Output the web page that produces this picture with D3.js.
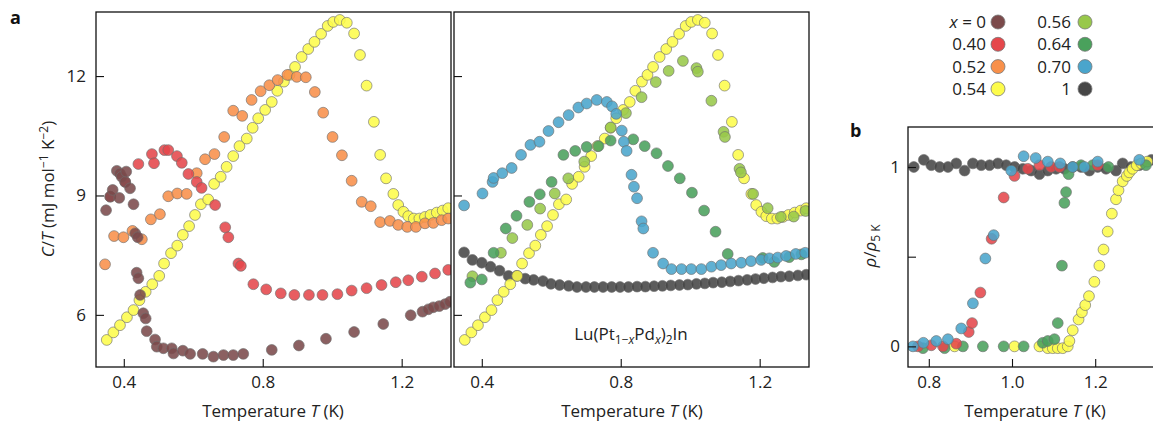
<!DOCTYPE html>
<html><head><meta charset="utf-8">
<script src="https://cdn.jsdelivr.net/npm/d3@7"></script>
<style>
body{margin:0;background:#fff;}
svg{display:block;font-family:"Open Sans",sans-serif;}
</style></head>
<body>
<svg id="chart" width="1153" height="422"></svg>
<script>
// ---- Panel a (left): C/T vs T ----
const x0 = [[0.349,8.63],[0.361,8.97],[0.368,9.14],[0.380,9.62],[0.387,8.94],[0.389,9.55],[0.394,9.47],[0.404,9.34],[0.407,9.60],[0.418,9.18],[0.428,8.78],[0.433,8.05],[0.440,7.95],[0.437,7.06],[0.442,6.92],[0.447,6.50],[0.456,6.04],[0.463,5.91],[0.466,5.59],[0.490,5.38],[0.495,5.20],[0.514,5.16],[0.538,5.16],[0.543,5.03],[0.570,5.10],[0.591,5.02],[0.627,5.02],[0.658,4.95],[0.687,4.99],[0.715,4.99],[0.744,5.02],[0.826,5.12],[0.904,5.23],[0.982,5.40],[1.063,5.57],[1.147,5.77],[1.226,5.99],[1.260,6.08],[1.277,6.14],[1.291,6.19],[1.308,6.22],[1.325,6.27],[1.339,6.33]];
const x40 = [[0.361,8.97],[0.404,9.34],[0.442,9.79],[0.481,10.04],[0.487,9.81],[0.517,10.14],[0.528,10.14],[0.553,9.99],[0.567,9.82],[0.586,9.54],[0.610,9.34],[0.624,9.19],[0.663,8.76],[0.692,8.20],[0.701,7.95],[0.730,7.29],[0.737,7.23],[0.773,6.77],[0.810,6.64],[0.852,6.54],[0.891,6.50],[0.933,6.50],[0.972,6.50],[1.015,6.52],[1.056,6.61],[1.099,6.67],[1.142,6.75],[1.183,6.82],[1.219,6.87],[1.258,6.96],[1.296,7.04],[1.334,7.13]];
const x52 = [[0.346,7.27],[0.372,7.98],[0.399,7.95],[0.425,8.11],[0.452,7.90],[0.478,8.40],[0.504,8.53],[0.528,8.98],[0.554,9.05],[0.581,9.04],[0.610,9.56],[0.634,9.91],[0.661,10.04],[0.689,10.47],[0.715,11.13],[0.741,11.00],[0.768,11.40],[0.794,11.62],[0.819,11.77],[0.843,11.90],[0.871,12.03],[0.898,11.98],[0.924,11.97],[0.950,11.60],[0.974,11.08],[1.001,10.47],[1.028,10.01],[1.056,9.37],[1.085,8.84],[1.111,8.73],[1.138,8.33],[1.166,8.36],[1.190,8.26],[1.216,8.21],[1.241,8.21],[1.267,8.30],[1.291,8.31],[1.315,8.38],[1.334,8.42]];
const x54 = [[0.351,5.37],[0.370,5.56],[0.389,5.74],[0.409,5.94],[0.428,6.12],[0.445,6.37],[0.463,6.58],[0.482,6.77],[0.502,6.98],[0.516,7.29],[0.536,7.55],[0.554,7.74],[0.570,8.01],[0.588,8.23],[0.605,8.51],[0.622,8.78],[0.643,8.90],[0.660,9.29],[0.679,9.47],[0.696,9.72],[0.715,9.99],[0.733,10.24],[0.754,10.43],[0.771,10.70],[0.787,10.94],[0.807,11.15],[0.826,11.35],[0.842,11.63],[0.861,11.86],[0.877,12.03],[0.893,12.23],[0.912,12.48],[0.931,12.68],[0.949,12.86],[0.968,13.06],[0.987,13.26],[1.003,13.36],[1.022,13.41],[1.042,13.34],[1.063,13.07],[1.080,12.53],[1.099,11.76],[1.120,10.85],[1.138,10.02],[1.155,9.43],[1.176,9.04],[1.190,8.76],[1.205,8.59],[1.219,8.48],[1.235,8.42],[1.251,8.42],[1.267,8.46],[1.283,8.51],[1.301,8.57],[1.318,8.62],[1.334,8.68]];
// ---- Panel a (right) ----
const x56 = [[0.373,6.97],[0.455,7.56],[0.488,7.93],[0.531,8.26],[0.568,8.67],[0.610,9.05],[0.649,9.43],[0.695,9.85],[0.771,10.71],[0.815,11.07],[0.860,11.47],[0.901,11.85],[0.938,12.13],[0.979,12.38],[1.018,12.20],[1.022,12.11],[1.061,11.38],[1.096,10.60],[1.100,10.47],[1.142,9.67],[1.146,9.58],[1.181,9.04],[1.223,8.68],[1.261,8.46],[1.298,8.47],[1.332,8.61]];
const x64 = [[0.367,6.81],[0.400,6.89],[0.434,7.56],[0.469,8.17],[0.500,8.49],[0.537,8.84],[0.567,9.03],[0.601,9.34],[0.635,10.02],[0.669,10.12],[0.702,10.22],[0.736,10.24],[0.771,10.38],[0.836,10.41],[0.869,10.24],[0.903,10.06],[0.936,9.74],[0.970,9.43],[1.005,9.07],[1.040,8.62],[1.073,8.09],[1.108,7.53],[1.209,7.43],[1.242,7.33],[1.285,7.45],[1.320,7.52]];
const x70 = [[0.349,8.75],[0.402,9.05],[0.431,9.34],[0.434,9.44],[0.459,9.56],[0.486,9.69],[0.513,10.02],[0.540,10.27],[0.566,10.35],[0.592,10.62],[0.621,10.84],[0.650,11.02],[0.678,11.21],[0.702,11.31],[0.731,11.40],[0.760,11.35],[0.775,11.24],[0.787,11.05],[0.803,10.63],[0.809,10.35],[0.817,10.12],[0.831,9.52],[0.838,9.22],[0.847,8.93],[0.860,8.35],[0.865,8.17],[0.893,7.56],[0.922,7.29],[0.946,7.15],[0.975,7.15],[1.003,7.15],[1.032,7.15],[1.061,7.21],[1.089,7.25],[1.118,7.29],[1.147,7.31],[1.175,7.35],[1.204,7.38],[1.228,7.42],[1.252,7.44],[1.276,7.48],[1.304,7.53],[1.331,7.56]];
const x100 = [[0.349,7.57],[0.373,7.38],[0.400,7.31],[0.425,7.21],[0.451,7.11],[0.477,6.98],[0.501,6.98],[0.525,6.91],[0.549,6.88],[0.576,6.85],[0.599,6.78],[0.624,6.75],[0.650,6.73],[0.674,6.70],[0.700,6.70],[0.724,6.70],[0.749,6.70],[0.774,6.70],[0.798,6.70],[0.822,6.70],[0.847,6.71],[0.871,6.71],[0.896,6.72],[0.920,6.73],[0.944,6.74],[0.969,6.75],[0.993,6.76],[1.018,6.78],[1.042,6.79],[1.066,6.81],[1.091,6.82],[1.115,6.84],[1.139,6.86],[1.164,6.88],[1.188,6.90],[1.212,6.92],[1.237,6.94],[1.261,6.96],[1.285,6.97],[1.310,6.99],[1.334,7.01]];
// ---- Panel b: rho / rho_5K ----
const r100 = [[0.764,1.00],[0.788,1.04],[0.806,1.01],[0.826,1.00],[0.846,1.00],[0.866,1.02],[0.886,0.98],[0.906,1.02],[0.926,1.01],[0.946,1.01],[0.966,1.02],[0.986,1.01],[1.006,1.00],[1.026,0.99],[1.046,0.98],[1.066,0.96],[1.086,0.98],[1.106,0.99],[1.126,0.99],[1.146,1.00],[1.166,1.00],[1.186,0.98],[1.206,1.00],[1.226,0.99],[1.250,0.98],[1.266,1.02],[1.286,1.00],[1.306,1.01],[1.335,1.04]];
const r40 = [[0.774,0.00],[0.806,0.006],[0.834,0.00],[0.866,0.015],[0.896,0.08],[0.904,0.13],[0.924,0.30],[0.951,0.60],[0.980,0.83],[1.006,0.95],[1.038,0.99],[1.066,1.01],[1.094,1.00],[1.114,1.00],[1.206,1.01]];
const r70 = [[0.762,0.00],[0.787,0.02],[0.818,0.03],[0.846,0.04],[0.878,0.10],[0.906,0.24],[0.936,0.49],[0.956,0.62],[0.998,0.98],[1.028,1.06],[1.057,1.05],[1.086,1.03],[1.116,1.02],[1.146,1.00],[1.174,1.00],[1.206,1.03],[1.306,1.04]];
const r64 = [[0.786,-0.01],[0.838,-0.01],[0.882,0.00],[0.930,0.00],[0.980,0.00],[1.028,0.00],[1.074,0.02],[1.086,0.03],[1.102,0.04],[1.110,0.13],[1.120,0.45],[1.126,0.80],[1.130,0.86],[1.136,0.96],[1.166,1.01],[1.194,1.01],[1.232,1.00],[1.322,1.01]];
const r54 = [[0.862,0.00],[1.006,0.00],[1.066,0.00],[1.086,-0.01],[1.098,-0.01],[1.110,-0.01],[1.122,-0.01],[1.134,0.00],[1.138,0.03],[1.146,0.09],[1.160,0.15],[1.168,0.19],[1.176,0.23],[1.185,0.28],[1.198,0.36],[1.210,0.45],[1.220,0.54],[1.230,0.64],[1.240,0.74],[1.250,0.82],[1.256,0.87],[1.266,0.92],[1.276,0.95],[1.282,0.97],[1.290,0.99],[1.300,1.01],[1.311,1.02],[1.325,1.03]];

const tTicks = [0.4, 0.8, 1.2];
const cTicks = [6, 9, 12];
const tTicksB = [0.8, 1.0, 1.2];
const rTicks = [0, 0.5, 1];
const legendLabels = ["x = 0","0.40","0.52","0.54","0.56","0.64","0.70","1"];
const legendColors = ["#7b4a4b","#e5474b","#f8904a","#fdfc4b","#98c84a","#4aa15c","#4aa5cc","#464646"];
const col = {x0:"#7b4a4b",x40:"#e5474b",x52:"#f8904a",x54:"#fdfc4b",x56:"#98c84a",x64:"#4aa15c",x70:"#4aa5cc",x100:"#464646"};

const svg = d3.select("#chart");
const R = 5.4;
const FS = "17px";

const xL = d3.scaleLinear().domain([0.32,1.342]).range([96,451]);
const xR = d3.scaleLinear().domain([0.32,1.342]).range([454,809]);
const yA = d3.scaleLinear().domain([4.69,13.61]).range([367,12]);
const xB = d3.scaleLinear().domain([0.75,1.42]).range([908,908+0.67*416]);
const yB = d3.scaleLinear().domain([-0.115,1.223]).range([367,127]);

function clip(id,x,y,w,h){
  svg.append("clipPath").attr("id",id).append("rect").attr("x",x).attr("y",y).attr("width",w).attr("height",h);
}
clip("cL",96,12,355,355); clip("cR",454,12,355,355); clip("cB",908,127,260,240);

function dots(g,data,xs,ys,color){
  g.append("g").selectAll("circle").data(data).join("circle")
   .attr("cx",d=>xs(d[0])).attr("cy",d=>ys(d[1])).attr("r",R)
   .attr("fill",color).attr("fill-opacity",0.88)
   .attr("stroke","#6e6e6e").attr("stroke-opacity",0.8).attr("stroke-width",0.8);
}

function axes(xs,ys,x0,y0,showY,xt,yt,yfmt){
  const gx = svg.append("g").attr("transform",`translate(0,${y0})`)
    .call(d3.axisBottom(xs).tickValues(xt).tickSize(-8).tickPadding(9).tickFormat(d3.format(".1f")));
  const gy = svg.append("g").attr("transform",`translate(${x0},0)`)
    .call(d3.axisLeft(ys).tickValues(yt).tickSize(-8).tickPadding(10).tickFormat(showY?yfmt:()=>""));
  [gx,gy].forEach(g=>{
    g.select(".domain").remove();
    g.selectAll("line").attr("stroke","#111").attr("stroke-width",1.1);
    g.selectAll("text").attr("fill","#222").style("font-size",FS).style("font-family","'Open Sans',sans-serif");
  });
  return [gx,gy];
}

// Left panel
const gL = svg.append("g").attr("clip-path","url(#cL)");
dots(gL,x54,xL,yA,col.x54);
dots(gL,x52,xL,yA,col.x52);
dots(gL,x40,xL,yA,col.x40);
dots(gL,x0,xL,yA,col.x0);
axes(xL,yA,96,367,true,tTicks,cTicks,d3.format("d"));
svg.append("rect").attr("x",96).attr("y",12).attr("width",355).attr("height",355).attr("fill","none").attr("stroke","#111").attr("stroke-width",1.3);

// Right panel
const gR = svg.append("g").attr("clip-path","url(#cR)");
dots(gR,x100,xR,yA,col.x100);
dots(gR,x54,xR,yA,col.x54);
dots(gR,x56,xR,yA,col.x56);
dots(gR,x64,xR,yA,col.x64);
dots(gR,x70,xR,yA,col.x70);
axes(xR,yA,454,367,false,tTicks,cTicks,d3.format("d"));
svg.append("rect").attr("x",454).attr("y",12).attr("width",355).attr("height",355).attr("fill","none").attr("stroke","#111").attr("stroke-width",1.3);

// Panel b
const gB = svg.append("g").attr("clip-path","url(#cB)");
dots(gB,r100,xB,yB,col.x100);
dots(gB,r54,xB,yB,col.x54);
dots(gB,r64,xB,yB,col.x64);
dots(gB,r40,xB,yB,col.x40);
dots(gB,r70,xB,yB,col.x70);
const [bx,by] = axes(xB,yB,908,367,true,tTicksB,rTicks,d=>d===0.5?"":d3.format("d")(d));
by.selectAll("text").attr("x",-8);
svg.append("rect").attr("x",908).attr("y",127).attr("width",300).attr("height",240).attr("fill","none").attr("stroke","#111").attr("stroke-width",1.3);

// Axis titles
function tempTitle(cx){
  const t = svg.append("text").attr("x",cx).attr("y",417).attr("text-anchor","middle")
    .attr("fill","#222").style("font-size",FS);
  t.append("tspan").text("Temperature ");
  t.append("tspan").attr("font-style","italic").text("T");
  t.append("tspan").text(" (K)");
}
tempTitle(273); tempTitle(632); tempTitle(1035);

const yl = svg.append("text").attr("transform","translate(54,189) rotate(-90)").attr("text-anchor","middle")
  .attr("fill","#222").style("font-size",FS);
yl.append("tspan").attr("font-style","italic").text("C");
yl.append("tspan").text("/");
yl.append("tspan").attr("font-style","italic").text("T");
yl.append("tspan").text(" (mJ mol");
yl.append("tspan").attr("dy",-6).style("font-size","12px").text("−1");
yl.append("tspan").attr("dy",6).text(" K");
yl.append("tspan").attr("dy",-6).style("font-size","12px").text("−2");
yl.append("tspan").attr("dy",6).text(")");

const rl = svg.append("text").attr("transform","translate(876,246) rotate(-90)").attr("text-anchor","middle")
  .attr("fill","#222").style("font-size",FS);
rl.append("tspan").attr("font-style","italic").text("ρ");
rl.append("tspan").text("/");
rl.append("tspan").attr("font-style","italic").text("ρ");
rl.append("tspan").attr("dy",4).style("font-size","12px").text("5 K");

// Compound label
const cl = svg.append("text").attr("x",631).attr("y",340).attr("text-anchor","middle").attr("fill","#222").style("font-size",FS);
cl.append("tspan").text("Lu(Pt");
cl.append("tspan").attr("dy",4).style("font-size","12px").text("1−");
cl.append("tspan").style("font-size","12px").attr("font-style","italic").text("x");
cl.append("tspan").attr("dy",-4).text("Pd");
cl.append("tspan").attr("dy",4).style("font-size","12px").attr("font-style","italic").text("x");
cl.append("tspan").attr("dy",-4).text(")");
cl.append("tspan").attr("dy",4).style("font-size","12px").text("2");
cl.append("tspan").attr("dy",-4).text("In");

// Panel letters
svg.append("text").attr("x",10).attr("y",24).attr("font-weight","bold").style("font-size","18px").attr("fill","#111").text("a");
svg.append("text").attr("x",850).attr("y",137).attr("font-weight","bold").style("font-size","18px").attr("fill","#111").text("b");

// Legend
const lg = svg.append("g");
legendLabels.forEach((lab,i)=>{
  const c = Math.floor(i/4), r = i%4;
  const ty = 22 + r*22.3;
  const tx = c===0 ? 986 : 1071;
  const cxm = c===0 ? 998 : 1085;
  const t = lg.append("text").attr("x",tx).attr("y",ty).attr("dy","0.35em").attr("text-anchor","end")
    .attr("fill","#222").style("font-size",FS);
  if(i===0){ t.append("tspan").attr("font-style","italic").text("x"); t.append("tspan").text(" = 0"); }
  else t.text(lab);
  lg.append("circle").attr("cx",cxm).attr("cy",ty).attr("r",7).attr("fill",legendColors[i])
    .attr("stroke","#777").attr("stroke-width",0.8);
});
</script>
</body></html>
